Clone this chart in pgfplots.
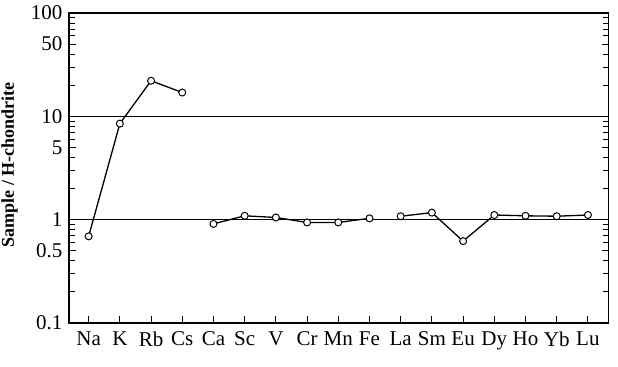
\documentclass[border=0pt]{standalone}
\usepackage{fontspec}
\setmainfont{Liberation Serif}
\usepackage{pgfplots}
\pgfplotsset{compat=1.18}
\pgfplotsset{chon/.style={black, line width=1.3bp, mark=*, mark size=3.5bp,
     mark options={fill=white, draw=black, line width=1bp, solid}}}
\begin{document}
\begin{tikzpicture}
\path[use as bounding box] (-69bp,-44bp) rectangle (549bp,323bp);
\begin{axis}[
  at={(0,0)}, anchor=south west,
  scale only axis, width=539.5bp, height=310bp,
  ymode=log, ymin=0.1, ymax=100,
  xmin=-0.63, xmax=16.66,
  axis line style={black, line width=1.2bp},
  tick align=inside,
  xtick={0,...,16},
  xticklabels={Na,K,Rb,Cs,Ca,Sc,V,Cr,Mn,Fe,La,Sm,Eu,Dy,Ho,Yb,Lu},
  xtick pos=lower,
  ytick={0.1,0.5,1,5,10,50,100},
  yticklabels={0.1,0.5,1,5,10,50,100},
  minor ytick={0.2,0.3,0.4,0.6,0.7,0.8,0.9,2,3,4,6,7,8,9,20,30,40,60,70,80,90},
  ytick pos=both,
  major tick length=7bp, minor tick length=6bp,
  tick style={black, line width=0.9bp},
  extra y ticks={1,10},
  extra y tick labels={},
  extra y tick style={grid=major, major grid style={black, line width=1.1bp}},
  /pgf/number format/assume math mode=true,
  tick label style={font=\fontsize{21bp}{24bp}\selectfont},
  yticklabel style={xshift=-3bp},
  xticklabel style={yshift=-5bp},
  ylabel={\fontsize{18bp}{20bp}\selectfont\bfseries Sample / H-chondrite},
  ylabel style={at={(axis description cs:-0.110,0.51)}, anchor=center},
]
\addplot[chon] coordinates {(0,0.69) (1,8.5) (2,22.1) (3,17.0)};
\addplot[chon] coordinates {(4,0.91) (5,1.09) (6,1.05) (7,0.94) (8,0.94) (9,1.03)};
\addplot[chon] coordinates {(10,1.08) (11,1.17) (12,0.62) (13,1.11) (14,1.09) (15,1.08) (16,1.11)};
\end{axis}
\end{tikzpicture}
\end{document}
